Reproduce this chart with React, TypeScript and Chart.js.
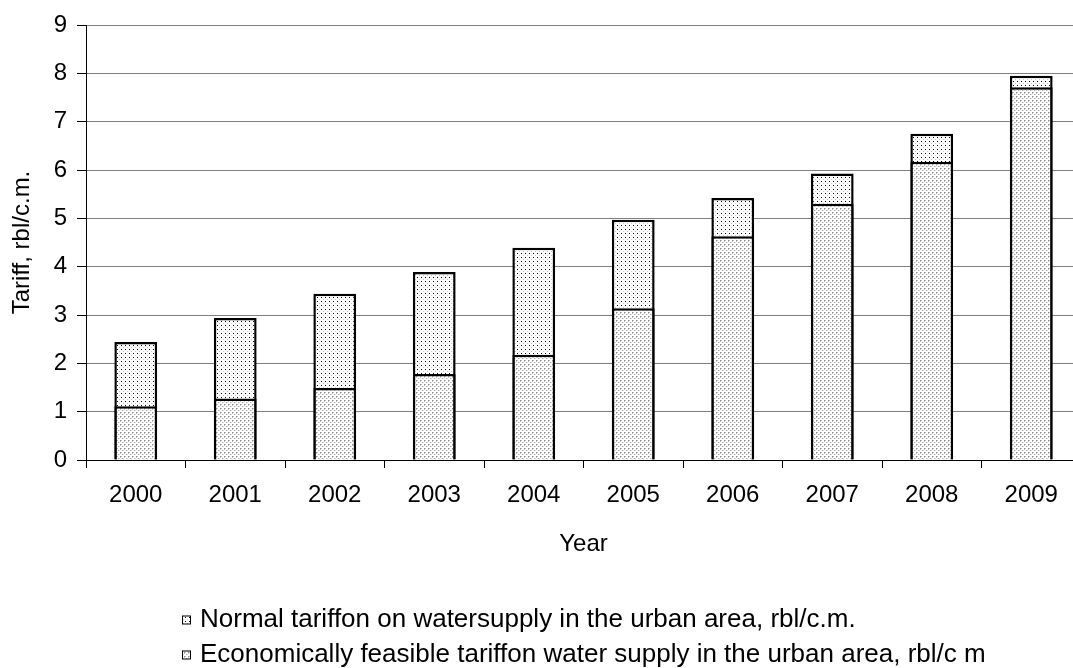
import React, { useEffect, useRef } from "react";
import { Chart, registerables } from "chart.js";

Chart.register(...registerables);

// Years on the category axis
const years = ["2000", "2001", "2002", "2003", "2004", "2005", "2006", "2007", "2008", "2009"];

// Tariff values, rbl/c.m.
const normalTariff = [2.44, 2.94, 3.44, 3.89, 4.39, 4.97, 5.42, 5.93, 6.75, 7.95];
const feasibleTariff = [1.11, 1.27, 1.49, 1.78, 2.18, 3.14, 4.63, 5.3, 6.17, 7.71];

// Value axis range
const yMin = 0;
const yMax = 9;
const yStep = 1;

const legendLabels = [
  "Normal tariffon on watersupply in the urban area, rbl/c.m.",
  "Economically feasible tariffon water supply in the urban area, rbl/c m",
];

const FONT = "'Liberation Sans', Arial, Helvetica, sans-serif";
const CANVAS_W = 1100;
const CANVAS_H = 668;

// Dotted fills, built as small repeating tiles
function makePattern(kind: "light" | "dense"): CanvasPattern | string {
  const tile = document.createElement("canvas");
  tile.width = 4;
  tile.height = 4;
  const g = tile.getContext("2d");
  if (!g) return "#eee";
  g.fillStyle = "#ffffff";
  g.fillRect(0, 0, 4, 4);
  if (kind === "light") {
    g.fillStyle = "#000000";
    g.fillRect(1, 1, 1, 1);
    g.fillStyle = "#c8c8c8";
    g.fillRect(3, 3, 1, 1);
  } else {
    g.fillStyle = "#8c8c8c";
    g.fillRect(0, 0, 1, 1);
    g.fillStyle = "#c4c4c4";
    g.fillRect(1, 0, 1, 1);
    g.fillRect(0, 1, 1, 1);
    g.fillStyle = "#a8a8a8";
    g.fillRect(2, 2, 1, 1);
    g.fillStyle = "#dadada";
    g.fillRect(3, 2, 1, 1);
  }
  return g.createPattern(tile, "repeat") || "#eee";
}

export default function App() {
  const canvasRef = useRef<HTMLCanvasElement | null>(null);

  useEffect(() => {
    const canvas = canvasRef.current;
    if (!canvas) return;
    const lightFill = makePattern("light");
    const denseFill = makePattern("dense");

    // Legend drawn as a left-aligned block centred under the plot
    const blockLegend = {
      id: "blockLegend",
      afterDraw(chart: any) {
        const { ctx, chartArea } = chart;
        const fills = [lightFill, denseFill];
        const rowsY = [620, 655];
        const box = 9;
        const gap = 9;
        ctx.save();
        ctx.font = `26px ${FONT}`;
        const widths = legendLabels.map((t) => ctx.measureText(t).width);
        const blockW = box + gap + Math.max(...widths);
        const x0 = Math.round((chartArea.left + chartArea.right) / 2 - blockW / 2);
        legendLabels.forEach((label, i) => {
          const y = rowsY[i];
          ctx.fillStyle = fills[i] as any;
          ctx.fillRect(x0, y - box / 2, box, box);
          ctx.strokeStyle = "#000";
          ctx.lineWidth = 1;
          ctx.strokeRect(x0 + 0.5, y - box / 2 + 0.5, box - 1, box - 1);
          ctx.fillStyle = "#000";
          ctx.textBaseline = "middle";
          ctx.textAlign = "left";
          ctx.fillText(label, x0 + box + gap, y);
        });
        ctx.restore();
      },
    };

    const chart = new Chart(canvas, {
      type: "bar",
      data: {
        labels: years,
        datasets: [
          {
            label: legendLabels[0],
            data: normalTariff,
            backgroundColor: lightFill as any,
            borderColor: "#000",
            borderWidth: 2.5,
            grouped: false,
            order: 2,
            barPercentage: 0.43,
            categoryPercentage: 1,
          },
          {
            label: legendLabels[1],
            data: feasibleTariff,
            backgroundColor: denseFill as any,
            borderColor: "#000",
            borderWidth: 2.5,
            grouped: false,
            order: 1,
            barPercentage: 0.43,
            categoryPercentage: 1,
          },
        ],
      },
      options: {
        responsive: false,
        animation: false,
        devicePixelRatio: 1,
        layout: { padding: { left: 0, top: 25, right: 19, bottom: 0 } },
        plugins: {
          legend: { display: false },
          tooltip: { enabled: false },
        },
        scales: {
          x: {
            afterFit: (scale: any) => {
              scale.height = 208;
            },
            grid: {
              display: true,
              drawOnChartArea: false,
              drawTicks: true,
              tickLength: 8,
              tickColor: "#000",
              tickWidth: 1,
            },
            border: { display: true, color: "#000", width: 1 },
            ticks: {
              color: "#000",
              font: { family: FONT, size: 24 },
              padding: 13,
              maxRotation: 0,
            },
            title: {
              display: true,
              text: "Year",
              color: "#000",
              font: { family: FONT, size: 24 },
              padding: { top: 0, bottom: 109 },
            },
          },
          y: {
            min: yMin,
            max: yMax,
            afterFit: (scale: any) => {
              scale.width = 86;
            },
            grid: {
              color: "#808080",
              lineWidth: 1,
              drawTicks: true,
              tickLength: 9,
              tickColor: "#000",
              tickWidth: 1,
            },
            border: { display: true, color: "#000", width: 1 },
            ticks: {
              stepSize: yStep,
              color: "#000",
              font: { family: FONT, size: 24 },
              padding: 10,
            },
            title: {
              display: true,
              text: "Tariff, rbl/c.m.",
              color: "#000",
              font: { family: FONT, size: 24 },
              padding: { top: 8, bottom: 0 },
            },
          },
        },
      },
      plugins: [blockLegend],
    });

    return () => chart.destroy();
  }, []);

  return (
    <div
      style={{
        position: "fixed",
        left: 0,
        top: 0,
        width: "100vw",
        height: "100vh",
        overflow: "hidden",
        background: "#fff",
      }}
    >
      <canvas
        ref={canvasRef}
        width={CANVAS_W}
        height={CANVAS_H}
        style={{ position: "absolute", left: 0, top: 0, width: CANVAS_W, height: CANVAS_H }}
      />
    </div>
  );
}
